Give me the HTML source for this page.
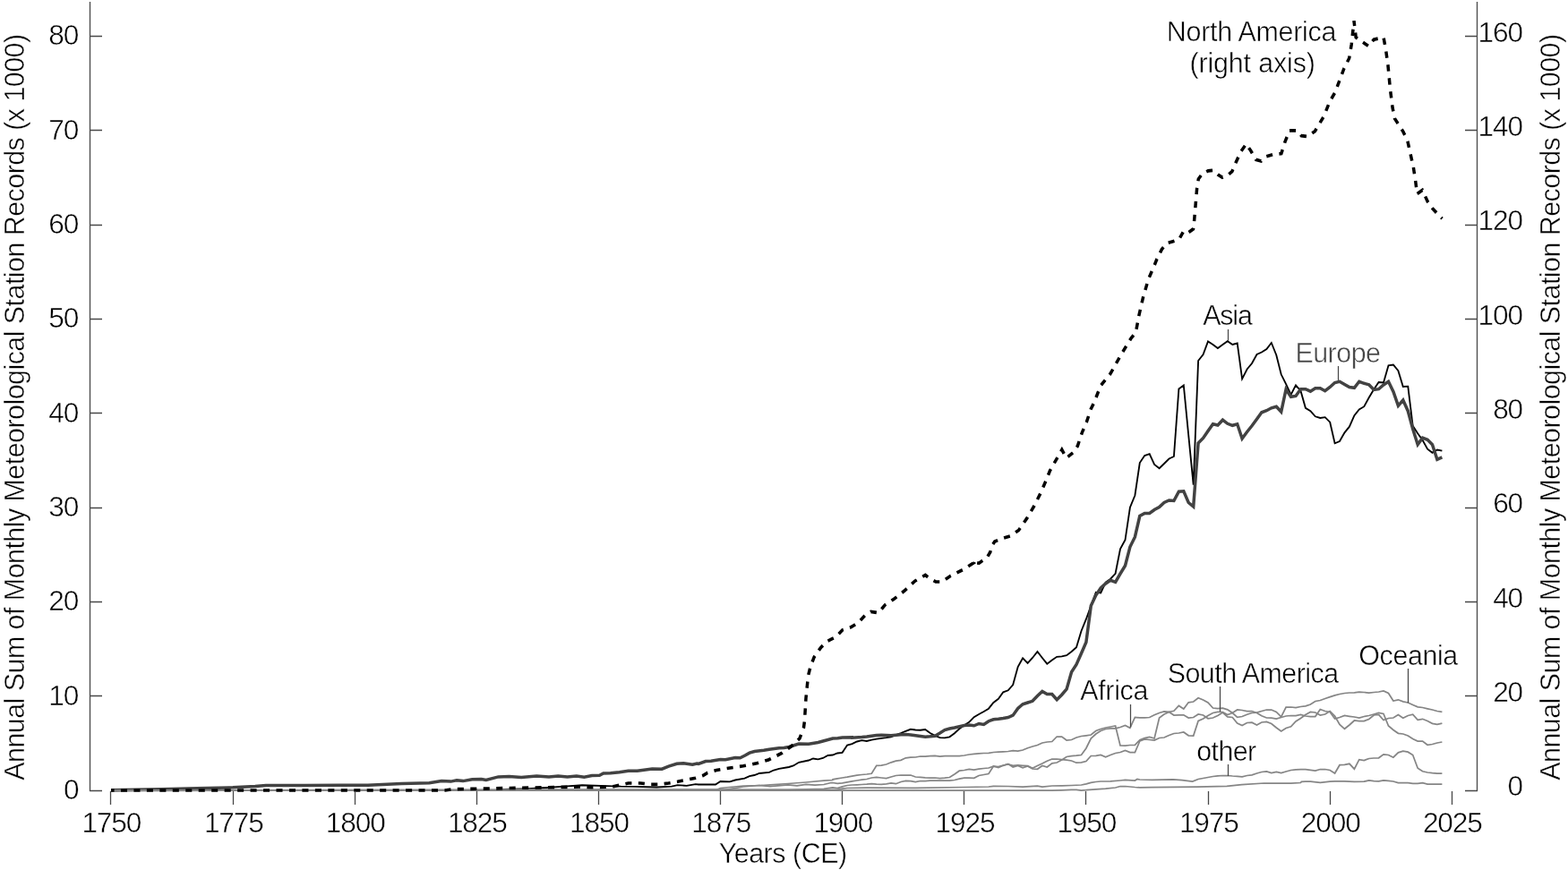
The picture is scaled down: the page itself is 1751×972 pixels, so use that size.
<!DOCTYPE html>
<html lang="en"><head><meta charset="utf-8"><title>Annual Sum of Monthly Meteorological Station Records</title>
<style>html,body{margin:0;padding:0;background:#fff}svg{display:block}text{font-family:"Liberation Sans",sans-serif;font-size:30.4px;fill:#000;stroke:#fff;stroke-width:0.48px}.g{fill:none;stroke:#858585;stroke-width:1.75;stroke-linejoin:miter;stroke-miterlimit:10}.ax{fill:none;stroke:#484848;stroke-width:1.3}.ld{fill:none;stroke:#484848;stroke-width:1.25}</style></head><body>
<svg width="1751" height="972" viewBox="0 0 1751 972">
<rect width="1751" height="972" fill="#fff"/>
<path d="M124,883.2 L555,883 L563,882 L570,881.7 L590,881.2 L610,880 L630,878.7 L650,877.3 L685,878.3 L693.3,878.7 L710,878.8 L733.3,879.5 L750,878.7 L756.7,877.2 L766.7,877.8 L776.7,876.2 L780,876.5 L799,876.5 L804.5,873 L815,873.3 L821,871.5 L831.5,869.7 L837,867.2 L842.5,866 L848,864 L859,862.8 L864,860.5 L870,858.8 L881,857 L886,855.5 L892,851.8 L903,849.5 L908,847.5 L913.5,848.3 L919,847 L924.5,844 L929.8,843.5 L935.2,841.5 L940.6,840.8 L946.1,832.5 L951.5,831.2 L957,828.5 L962.4,827.2 L967.9,828 L973.3,826.7 L978.8,825.7 L984.2,824.8 L989.7,824.2 L995.1,823.3 L1000.5,821 L1006,819 L1011.4,816.8 L1016.9,814.8 L1022.3,815.5 L1027.8,815.7 L1033.2,815 L1038.7,819 L1044.1,821.8 L1049.6,824.2 L1055,824.3 L1060.4,823.3 L1065.9,819.3 L1071.3,814.3 L1076.8,810.2 L1082.2,806.8 L1087.7,801.2 L1093.1,798 L1098.6,795 L1104,791.7 L1109.4,785 L1114.9,780.8 L1120.3,773.3 L1125.8,771.3 L1131.2,765 L1136.7,745 L1142.1,735.3 L1147.6,740.8 L1153,735 L1158.5,728 L1163.9,735 L1169.3,741.7 L1174.8,737.5 L1180.2,733.8 L1185.7,733.3 L1191.1,732.2 L1196.6,728 L1202,723.3 L1207.5,705 L1212.9,691.7 L1218.3,676.7 L1223.8,661.7 L1229.2,662.5 L1234.7,650.5 L1240.1,646.7 L1245.6,640.8 L1251,613.3 L1256.5,603.3 L1261.9,567 L1267.4,553.5 L1272.8,517 L1278.2,509 L1283.7,507.2 L1289.1,519 L1294.6,523.2 L1300,518 L1305.5,512.5 L1310.9,510 L1316.4,434.5 L1321.8,430.5 L1327.2,486 L1332.7,541.7 L1338.1,403 L1343.6,396 L1349,381.5 L1354.5,385 L1359.9,389 L1365.4,385 L1370.8,381.2 L1376.3,385 L1381.7,383.5 L1387.1,423.3 L1392.6,412.5 L1398,406 L1403.5,396 L1408.9,393.5 L1414.4,390 L1419.8,383 L1425.3,396.7 L1430.7,418.3 L1436.1,429.2 L1441.6,440.8 L1447,430.3 L1452.5,436.7 L1457.9,455.8 L1463.4,459.2 L1468.8,465.3 L1474.3,467 L1479.7,466.2 L1485.2,471.7 L1490.6,495.3 L1496,493 L1501.5,483.3 L1506.9,476.7 L1512.4,464.2 L1517.8,457.5 L1523.3,454.2 L1528.7,444.2 L1534.2,435 L1539.6,427 L1545,427.5 L1550.5,408.3 L1555.9,407.5 L1561.4,414.2 L1566.8,432 L1572.3,431.7 L1577.7,475.8 L1583.2,484.2 L1588.6,491.7 L1594.1,501.7 L1599.5,505.8 L1604.9,502.5 L1610.4,503.7" fill="none" stroke="#000" stroke-width="1.85" stroke-linejoin="miter" stroke-miterlimit="10"/>
<path d="M124,882.8 L180,881.8 L220,880.8 L260,879.8 L285,878.6 L297,877.4 L340,877.4 L380,877.2 L410.8,877.2 L448.5,875.5 L479.4,874.8 L493.1,872.6 L503.4,873.1 L510.2,871.7 L517.1,872.6 L527.3,870.8 L537.6,870.5 L542.8,871.4 L556.5,867.9 L568.5,867.4 L582.2,868.6 L599.3,867.1 L613,867.9 L623.3,867.1 L633.6,867.9 L643.8,867.1 L652.4,868.3 L661,866.6 L669.5,866.2 L673.8,864 L681.7,863.7 L691.7,862.8 L701.7,861.3 L711.7,861.2 L728.3,859 L739.2,859.2 L746.7,856.2 L755.8,853.3 L763.3,852.8 L773.3,854.2 L778.3,853 L780,853.5 L788,850.5 L794,850.2 L804.5,848.5 L810,848.7 L821,846.5 L826.5,846.8 L832,844 L837,841.2 L842.5,839.5 L853,838.3 L859,837.2 L870,835.7 L875.5,835.5 L881,834.5 L892,831 L903,831.2 L913.5,829.5 L919,828 L930,825 L935.5,824.8 L940.7,824 L951.5,823.8 L951.6,824.2 L962.5,823.5 L967.9,823 L973.4,822.2 L978.8,821.5 L984.3,821.2 L989.7,821.5 L995.1,821.7 L1000.6,821.2 L1006,820.8 L1011.5,820.5 L1016.9,821 L1022.4,821.8 L1027.8,822.5 L1033.3,823.2 L1038.7,822.8 L1044.2,822.2 L1049.6,819 L1055,815.5 L1060.5,814 L1065.9,813 L1071.4,811.8 L1076.8,810.5 L1082.3,810 L1087.7,810.8 L1093.2,808.5 L1098.6,809.5 L1104,805.7 L1109.4,803.8 L1114.9,803.3 L1120.3,802.5 L1125.8,801.5 L1131.2,799.2 L1136.7,791.5 L1142.1,786.8 L1147.6,785 L1153,783.3 L1158.5,777.5 L1163.9,772.5 L1169.3,775.6 L1174.8,775.5 L1180.2,781.7 L1185.7,776.2 L1191.1,770 L1196.6,750.8 L1202,742.5 L1207.5,730 L1212.9,717.5 L1218.3,676.7 L1223.8,665 L1229.2,657 L1234.7,652 L1240.1,648.3 L1245.6,650.3 L1251,641 L1256.5,632 L1261.9,611 L1267.4,600 L1272.8,576.5 L1278.2,573.5 L1283.7,573.5 L1289.1,569.5 L1294.6,566.5 L1300,561.5 L1305.5,559 L1310.9,559.5 L1316.4,549.2 L1321.8,548.8 L1327.2,561.5 L1332.7,566 L1338.1,495 L1343.6,489.5 L1349,481.5 L1354.5,473.7 L1359.9,475 L1365.4,469.2 L1370.8,473.3 L1376.3,475.3 L1381.7,473.8 L1387.1,490 L1392.6,482.5 L1398,475.8 L1403.5,468.3 L1408.9,460.8 L1414.4,458.7 L1419.8,455.8 L1425.3,454.2 L1430.7,460 L1436.1,435 L1441.6,443.3 L1447,442.5 L1452.5,434.7 L1457.9,434.7 L1463.4,437.2 L1468.8,433.8 L1474.3,433.7 L1479.7,436.7 L1485.2,432.5 L1490.6,427.5 L1496,426.3 L1501.5,429.5 L1506.9,432.5 L1512.4,433.3 L1517.8,426.3 L1523.3,428.3 L1528.7,429.7 L1534.2,435.5 L1539.6,434.7 L1545,430 L1550.5,426.3 L1555.9,437.5 L1561.4,453.3 L1566.8,447 L1572.3,459.2 L1577.7,479.2 L1583.2,496.7 L1588.6,489.2 L1594.1,491.3 L1599.5,496.7 L1604.9,513.3 L1610.4,510.8" fill="none" stroke="#424242" stroke-width="3.5" stroke-linejoin="miter" stroke-miterlimit="10"/>
<path class="g" d="M124,883 L1174.8,883.2 L1185.7,882.8 L1196.6,882.3 L1202,882.3 L1207.5,883 L1212.9,882.7 L1223.8,881.8 L1234.7,881.2 L1245.6,880 L1251,878.5 L1256.5,878.5 L1267.4,879.5 L1272.8,879.8 L1286.7,879.7 L1336.7,879.2 L1370,878.3 L1386.7,876.7 L1411.7,875 L1441.6,875 L1452.5,874.5 L1453.3,873.3 L1457.9,873.2 L1463.4,873.2 L1474.3,874.3 L1485.2,873.2 L1490.6,872.8 L1501.5,872.8 L1512.4,873.3 L1523.3,873.2 L1528.7,871.8 L1534.2,872.7 L1539.6,872.8 L1545,871.8 L1550.5,872.3 L1555.9,873 L1561.4,874.7 L1572.3,874.7 L1577.7,875.3 L1583.2,875.3 L1588.6,874.7 L1594.1,876 L1610.4,876"/>
<path class="g" d="M124,883 L935,882.3 L940.6,881.2 L946.1,880.5 L967.9,880.2 L1022.3,880.3 L1076.8,879.5 L1104,879 L1109.4,878.3 L1125.8,878.5 L1142.1,879 L1158.5,878.2 L1163.9,879 L1174.8,878 L1185.7,877.8 L1196.6,877.5 L1207.5,877 L1212.9,875.8 L1218.3,874.3 L1223.8,873.5 L1229.2,873 L1240.1,872.8 L1251,872 L1256.5,871.5 L1267.4,872 L1270,870.5 L1272.8,871 L1286.7,871.3 L1310,870.8 L1320,871.7 L1331.7,873 L1338.1,870.5 L1343.6,869.5 L1349,868.5 L1354.5,867.5 L1359.9,866.8 L1365.4,866.5 L1370.8,866.5 L1376.3,867 L1381.7,867.3 L1387.1,867.8 L1392.6,866.5 L1398,865.8 L1403.5,864 L1408.9,862.5 L1414.4,862 L1419.8,863.5 L1425.3,862.5 L1430.7,863.5 L1436.1,862 L1441.6,860.5 L1447,859.8 L1452.5,859.7 L1457.9,859.7 L1463.4,860.3 L1468.8,861 L1474.3,859.5 L1479.7,859.5 L1485.2,860.5 L1490.6,864 L1496,854.7 L1501.5,854.3 L1506.9,853.3 L1512.4,859.2 L1517.8,848.7 L1523.3,849.5 L1528.7,847.5 L1534.2,847 L1539.6,846.8 L1545,842.8 L1550.5,843.5 L1555.9,846.2 L1561.4,840.8 L1566.8,839.2 L1572.3,840.2 L1577.7,843.5 L1583.2,858.2 L1588.6,861.8 L1594.1,863 L1599.5,863.7 L1604.9,864.2 L1610.4,864.2"/>
<path class="g" d="M124,883 L810,882.4 L830,879 L848,877.5 L860,878.5 L880,877 L890,877.8 L900,876.5 L910,877.2 L920,876.5 L928,874.5 L929.8,874.5 L935.2,875.3 L940.6,874.8 L946.1,873.8 L951.5,872.8 L957,872 L962.4,871.2 L967.9,870.5 L973.3,869 L978.8,868.5 L984.2,869 L989.7,869.5 L995.1,868 L1000.5,866.5 L1006,866 L1011.4,866 L1016.9,866 L1022.3,868 L1027.8,868.3 L1033.2,868.8 L1038.7,869 L1044.1,869 L1049.6,869.5 L1055,869.2 L1060.4,868.5 L1065.9,865 L1071.3,861.2 L1076.8,860.5 L1082.2,859.5 L1087.7,860.2 L1093.1,859.2 L1098.6,858.5 L1104,858 L1109.4,856.2 L1114.9,856.5 L1120.3,855 L1125.8,854 L1131.2,855.3 L1136.7,854.8 L1142.1,855.3 L1147.6,855.7 L1153,858.2 L1158.5,855.5 L1163.9,853 L1169.3,850.3 L1174.8,848 L1180.2,848 L1185.7,848.7 L1191.1,849.2 L1196.6,850 L1202,852.2 L1207.5,851.8 L1212.9,850.5 L1218.3,844.5 L1223.8,844.3 L1229.2,843.5 L1234.7,845.7 L1240.1,843.5 L1245.6,841.5 L1251,840.5 L1256.5,838.5 L1261.9,840.5 L1267.4,840.5 L1272.8,828 L1278.2,826 L1283.7,826.5 L1289.1,827 L1294.6,824.5 L1300,824 L1305.5,821.5 L1310.9,819.5 L1316.4,819 L1321.8,818 L1327.2,821.8 L1332.7,822 L1338.1,805.5 L1343.6,803 L1349,799.5 L1354.5,796.5 L1359.9,795.3 L1365.4,795.5 L1370.8,798.5 L1376.3,796.5 L1381.7,793 L1387.1,793.5 L1392.6,794.5 L1398,794.5 L1403.5,796.5 L1408.9,799.8 L1414.4,802 L1419.8,802.2 L1425.3,803.2 L1430.7,801.5 L1436.1,800 L1441.6,799.5 L1447,799.5 L1452.5,798.5 L1457.9,800 L1463.4,800.5 L1468.8,800.5 L1474.3,792.5 L1479.7,794.5 L1485.2,795.5 L1490.6,803 L1496,801.5 L1501.5,799.5 L1506.9,800.3 L1512.4,801 L1517.8,802.2 L1523.3,800.5 L1528.7,799.5 L1534.2,798 L1539.6,796.5 L1545,797.5 L1550.5,811 L1555.9,815.5 L1561.4,819.3 L1566.8,820 L1572.3,822 L1577.7,825.5 L1583.2,828 L1588.6,828 L1594.1,832.3 L1599.5,831.5 L1604.9,830 L1610.4,829"/>
<path class="g" d="M124,883 L880,882.3 L920,881.3 L929.8,880 L935.2,880.5 L940.6,878.8 L946.1,877.5 L951.5,877 L957,876.8 L962.4,876.5 L967.9,876.2 L973.3,875.7 L978.8,876.2 L984.2,876.3 L989.7,875.8 L995.1,875 L1000.5,875.7 L1006,873.5 L1011.4,872.5 L1016.9,872.7 L1022.3,873.7 L1027.8,872.5 L1033.2,872.5 L1038.7,872.2 L1044.1,872 L1049.6,872 L1055,872 L1060.4,872 L1065.9,871.5 L1071.3,870.2 L1076.8,869.2 L1082.2,869.2 L1087.7,869.3 L1093.1,866.5 L1098.6,865.5 L1104,864.5 L1109.4,856 L1114.9,857.5 L1120.3,855.3 L1125.8,853.5 L1131.2,857 L1136.7,855.5 L1142.1,857.8 L1147.6,856 L1153,859 L1158.5,859.3 L1163.9,855.5 L1169.3,857 L1174.8,852.8 L1180.2,852 L1185.7,849 L1191.1,845.5 L1196.6,844.7 L1202,844.2 L1207.5,843.5 L1212.9,836 L1218.3,825 L1223.8,820 L1229.2,816.5 L1234.7,814.5 L1240.1,813.8 L1245.6,813.8 L1251,812.5 L1256.5,810.5 L1261.9,813.3 L1267.4,801.5 L1272.8,801.8 L1278.2,801.8 L1283.7,801.5 L1289.1,798.8 L1294.6,796.5 L1300,795 L1305.5,795.3 L1310.9,794.3 L1316.4,788.5 L1321.8,792 L1327.2,784.8 L1332.7,784 L1338.1,779.8 L1343.6,782 L1349,785 L1354.5,791 L1359.9,791.5 L1365.4,791.2 L1370.8,792.8 L1376.3,796.5 L1381.7,801.3 L1387.1,800.5 L1392.6,798.2 L1398,796.5 L1403.5,796.2 L1408.9,794.5 L1414.4,793 L1419.8,793 L1425.3,795.5 L1430.7,800.8 L1436.1,790 L1441.6,790 L1447,790.5 L1452.5,789.5 L1457.9,788.8 L1463.4,787 L1468.8,783.5 L1474.3,782.5 L1479.7,780.5 L1485.2,778.7 L1490.6,776.8 L1496,775.5 L1501.5,774.5 L1506.9,774 L1512.4,773.8 L1517.8,773.2 L1523.3,773.5 L1528.7,774 L1534.2,773.5 L1539.6,773 L1545,772 L1550.5,774.5 L1555.9,783 L1561.4,781.8 L1566.8,783.8 L1572.3,785 L1577.7,787.5 L1583.2,789.8 L1588.6,790.5 L1594.1,791.8 L1599.5,793 L1604.9,794.5 L1610.4,795.3"/>
<path class="g" d="M124,883 L800,882.6 L804.5,880.5 L830,878 L850,877.5 L860,876.8 L880,875.5 L900,874 L920,872.2 L929.8,871.5 L930,870.8 L935.2,869.8 L940.6,869 L946.1,868.2 L951.5,867.2 L957,866.2 L962.4,865.5 L967.9,865 L973.3,864.3 L978.8,855.3 L984.2,855.2 L989.7,854 L995.1,851.8 L1000.5,850.2 L1006,849.3 L1011.4,846.8 L1016.9,846.2 L1022.3,846 L1027.8,845 L1033.2,845 L1038.7,844.7 L1044.1,844.5 L1049.6,845 L1055,844.7 L1060.4,844.5 L1065.9,844.5 L1071.3,844.5 L1076.8,844 L1082.2,843 L1087.7,842.3 L1093.1,841.8 L1098.6,841.5 L1104,841.3 L1109.4,840.5 L1114.9,840.2 L1120.3,839.8 L1125.8,839.5 L1131.2,838.7 L1136.7,839.2 L1142.1,838 L1147.6,835.7 L1153,834 L1158.5,832.5 L1163.9,830 L1169.3,829 L1174.8,828.5 L1180.2,823 L1185.7,823 L1191.1,827 L1196.6,826.5 L1202,824 L1207.5,822.5 L1212.9,821.8 L1218.3,821 L1223.8,816.5 L1229.2,814.5 L1234.7,813 L1240.1,812 L1245.6,811 L1251,833 L1256.5,833.2 L1261.9,832.5 L1267.4,832.3 L1272.8,826.8 L1278.2,824.7 L1283.7,823.3 L1289.1,825 L1294.6,802 L1300,798 L1305.5,795.5 L1310.9,799 L1316.4,798.8 L1321.8,798.8 L1327.2,802 L1332.7,801.5 L1338.1,798 L1343.6,799 L1349,802.8 L1354.5,802 L1359.9,799.5 L1365.4,796 L1370.8,800.8 L1376.3,801.5 L1381.7,808 L1387.1,810.5 L1392.6,807.5 L1398,807.2 L1403.5,810 L1408.9,807 L1414.4,806.5 L1419.8,808.5 L1425.3,813 L1430.7,817 L1436.1,813.5 L1441.6,811.8 L1447,806 L1452.5,802.5 L1457.9,798.5 L1463.4,795.5 L1468.8,796 L1474.3,799 L1479.7,798 L1485.2,794.5 L1490.6,800 L1496,809.5 L1501.5,814.3 L1506.9,810 L1512.4,805 L1517.8,805.5 L1523.3,805.5 L1528.7,803.5 L1534.2,799 L1539.6,798.5 L1545,804.5 L1550.5,802.5 L1555.9,802 L1561.4,798.5 L1566.8,802.2 L1572.3,799.5 L1577.7,798.2 L1583.2,804.3 L1588.6,803.3 L1594.1,805.5 L1599.5,808.3 L1604.9,809.3 L1610.4,808.2"/>
<path transform="scale(1,1.04)" d="M124,849.04 L497,849.04 L505,847.88 L570,846.63 L650,845.19 L660,845.83 L676.67,845.35 L685,844.87 L701.67,841.35 L715,841.35 L726.67,842.63 L735,842.63 L746.67,841.35 L756.67,839.74 L776.67,835.74 L785,833.17 L790,830.29 L800,827.4 L815,825 L830,822.88 L845,820 L858,816.35 L873,809.13 L884,801.44 L893,793.27 L897.5,781.73 L898.5,774.04 L900,750 L901.33,737.18 L902.5,725.96 L905,716.35 L909.17,705.93 L916.67,695.51 L923.33,689.1 L928.33,686.7 L933.33,684.29 L940.83,676.76 L950,673.88 L958.33,669.07 L966.67,660.26 L972.5,657.05 L980.83,658.33 L988.33,649.84 L998.33,643.43 L1010,634.62 L1021.67,624.2 L1033.33,617.79 L1036.67,620.19 L1045,625 L1051.67,625 L1061.67,618.59 L1076.67,611.38 L1086.67,604.97 L1085,604.17 L1093.33,604.97 L1102.5,598.56 L1105.83,592.95 L1107.5,586.54 L1110.83,581.73 L1120,578.21 L1128.33,575.8 L1137.5,569.71 L1146.67,556.89 L1155,543.27 L1161.67,530.45 L1167.5,517.63 L1172.5,505.61 L1179.17,494.39 L1185.83,483.17 L1190.83,491.99 L1199.17,485.58 L1203.33,479.17 L1208.33,464.74 L1213.33,453.53 L1218.33,439.1 L1221.67,432.69 L1229.17,414.26 L1240,401.44 L1251.67,381.41 L1263.33,362.98 L1268.33,357.37 L1271.67,339.74 L1276.67,318.91 L1282.5,299.68 L1288.33,286.86 L1291.67,278.85 L1297.5,267.63 L1303.33,261.22 L1311.67,258.81 L1316.67,257.21 L1321.67,248.4 L1326.67,250 L1332.5,245.99 L1333.33,240.38 L1335,221.15 L1336.67,201.92 L1338.33,192.31 L1342.5,186.7 L1349.17,183.49 L1355,183.01 L1360,187.5 L1365,190.71 L1370,189.1 L1375.83,184.29 L1380,174.68 L1385.83,162.66 L1391.67,154.65 L1396.67,161.86 L1402.5,171.47 L1408.33,173.08 L1413.33,168.27 L1421.67,165.87 L1430.83,165.06 L1435,152.24 L1440,140.22 L1448.33,140.22 L1453.33,145.83 L1460,146.63 L1468.33,141.03 L1478.33,125 L1485,108.97 L1490.83,99.36 L1495.83,86.54 L1500.83,73.72 L1506.67,62.5 L1509.17,48.08 L1512,22.44 L1514.17,40.06 L1520,44.07 L1528.33,49.68 L1534.17,42.47 L1545,40.06 L1547.5,52.88 L1550,70.51 L1552.5,96.15 L1555,115.38 L1557.5,127.4 L1566.67,141.03 L1571.67,150.64 L1575,165.06 L1578.33,179.49 L1580.83,195.51 L1582.5,208.33 L1588.33,204.33 L1594.17,216.35 L1600,224.36 L1610.5,234.78" fill="none" stroke="#000" stroke-width="3.5" stroke-dasharray="7.05 7.41" stroke-dashoffset="3.5" stroke-linejoin="miter"/>
<path class="ax" d="M100.5,2 V884 M100.0,883.5 h14 M100.0,777.5 h14 M100.0,672.5 h14 M100.0,567.5 h14 M100.0,461.5 h14 M100.0,356.5 h14 M100.0,251.5 h14 M100.0,145.5 h14 M100.0,40.5 h14 M1649.5,2 V884 M1650.0,883.5 h-14 M1650.0,777.5 h-14 M1650.0,672.5 h-14 M1650.0,567.5 h-14 M1650.0,461.5 h-14 M1650.0,356.5 h-14 M1650.0,251.5 h-14 M1650.0,145.5 h-14 M1650.0,40.5 h-14 M123.5,884 V899 M260.5,884 V899 M396.5,884 V899 M532.5,884 V899 M668.5,884 V899 M804.5,884 V899 M940.5,884 V899 M1076.5,884 V899 M1212.5,884 V899 M1349.5,884 V899 M1485.5,884 V899 M1621.5,884 V899"/>
<path class="ld" d="M1262.5,787 V812.5 M1362.5,767 V795 M1371.5,854 V867 M1371.5,368 V381 M1494.5,409 V425.8 M1572.5,747 V785.3"/>
<text id="yl0" transform="translate(71.00,893.10) scale(1.04,1.04)" style="letter-spacing:-1.050px;">0</text>
<text id="yr0" transform="translate(1683.47,889.40) scale(1.04,1.04)" style="letter-spacing:-1.050px;">0</text>
<text id="yl1" transform="translate(54.33,787.74) scale(1.04,1.04)" style="letter-spacing:-1.050px;">10</text>
<text id="yr1" transform="translate(1667.13,784.04) scale(1.04,1.04)" style="letter-spacing:-1.050px;">20</text>
<text id="yl2" transform="translate(54.33,682.38) scale(1.04,1.04)" style="letter-spacing:-1.050px;">20</text>
<text id="yr2" transform="translate(1667.13,678.68) scale(1.04,1.04)" style="letter-spacing:-1.050px;">40</text>
<text id="yl3" transform="translate(54.33,577.02) scale(1.04,1.04)" style="letter-spacing:-1.050px;">30</text>
<text id="yr3" transform="translate(1667.13,573.32) scale(1.04,1.04)" style="letter-spacing:-1.050px;">60</text>
<text id="yl4" transform="translate(54.33,471.66) scale(1.04,1.04)" style="letter-spacing:-1.050px;">40</text>
<text id="yr4" transform="translate(1667.13,467.96) scale(1.04,1.04)" style="letter-spacing:-1.050px;">80</text>
<text id="yl5" transform="translate(54.33,366.30) scale(1.04,1.04)" style="letter-spacing:-1.050px;">50</text>
<text id="yr5" transform="translate(1650.47,362.60) scale(1.04,1.04)" style="letter-spacing:-1.050px;">100</text>
<text id="yl6" transform="translate(54.33,260.94) scale(1.04,1.04)" style="letter-spacing:-1.050px;">60</text>
<text id="yr6" transform="translate(1650.47,257.24) scale(1.04,1.04)" style="letter-spacing:-1.050px;">120</text>
<text id="yl7" transform="translate(54.33,155.58) scale(1.04,1.04)" style="letter-spacing:-1.050px;">70</text>
<text id="yr7" transform="translate(1650.47,151.88) scale(1.04,1.04)" style="letter-spacing:-1.050px;">140</text>
<text id="yl8" transform="translate(54.33,50.22) scale(1.04,1.04)" style="letter-spacing:-1.050px;">80</text>
<text id="yr8" transform="translate(1650.47,46.52) scale(1.04,1.04)" style="letter-spacing:-1.050px;">160</text>
<text id="xt0" transform="translate(91.38,929.60) scale(1.04,1.04)" style="letter-spacing:-1.050px;">1750</text>
<text id="xt1" transform="translate(227.88,929.60) scale(1.04,1.04)" style="letter-spacing:-1.050px;">1775</text>
<text id="xt2" transform="translate(363.72,929.60) scale(1.04,1.04)" style="letter-spacing:-1.050px;">1800</text>
<text id="xt3" transform="translate(499.88,929.60) scale(1.04,1.04)" style="letter-spacing:-1.050px;">1825</text>
<text id="xt4" transform="translate(636.05,929.60) scale(1.04,1.04)" style="letter-spacing:-1.050px;">1850</text>
<text id="xt5" transform="translate(772.22,929.60) scale(1.04,1.04)" style="letter-spacing:-1.050px;">1875</text>
<text id="xt6" transform="translate(908.38,929.60) scale(1.04,1.04)" style="letter-spacing:-1.050px;">1900</text>
<text id="xt7" transform="translate(1044.55,929.60) scale(1.04,1.04)" style="letter-spacing:-1.050px;">1925</text>
<text id="xt8" transform="translate(1180.38,929.60) scale(1.04,1.04)" style="letter-spacing:-1.050px;">1950</text>
<text id="xt9" transform="translate(1316.88,929.60) scale(1.04,1.04)" style="letter-spacing:-1.050px;">1975</text>
<text id="xt10" transform="translate(1452.72,929.60) scale(1.04,1.04)" style="letter-spacing:-1.050px;">2000</text>
<text id="xt11" transform="translate(1588.88,929.60) scale(1.04,1.04)" style="letter-spacing:-1.050px;">2025</text>
<text id="xlab" transform="translate(802.67,964.05) scale(1,1.04)" style="letter-spacing:-0.444px;">Years (CE)</text>
<text id="ylabL" transform="translate(27.30,871.67) rotate(-90) scale(1,1.04)" style="letter-spacing:-0.517px;">Annual Sum of Monthly Meteorological Station Records (x 1000)</text>
<text id="ylabR" transform="translate(1742.30,871.67) rotate(-90) scale(1,1.04)" style="letter-spacing:-0.517px;">Annual Sum of Monthly Meteorological Station Records (x 1000)</text>
<text id="na1" transform="translate(1302.80,46.20) scale(1,1.04)" style="letter-spacing:-0.239px;">North America</text>
<text id="na2" transform="translate(1328.53,81.20) scale(1,1.04)" style="letter-spacing:-0.142px;">(right axis)</text>
<text id="asia" transform="translate(1343.13,363.15) scale(1,1.04)" style="letter-spacing:-1.111px;">Asia</text>
<text id="europe" transform="translate(1446.40,404.90) scale(1,1.04)" style="letter-spacing:-0.480px;fill:#454545;">Europe</text>
<text id="africa" transform="translate(1206.33,782.20) scale(1,1.04)" style="letter-spacing:-0.333px;">Africa</text>
<text id="sam" transform="translate(1303.67,763.00) scale(1,1.04)" style="letter-spacing:-0.508px;">South America</text>
<text id="oce" transform="translate(1517.33,742.50) scale(1,1.04)" style="letter-spacing:-0.389px;">Oceania</text>
<text id="other" transform="translate(1336.33,850.00) scale(1,1.04)" style="letter-spacing:-0.625px;">other</text>
</svg></body></html>
